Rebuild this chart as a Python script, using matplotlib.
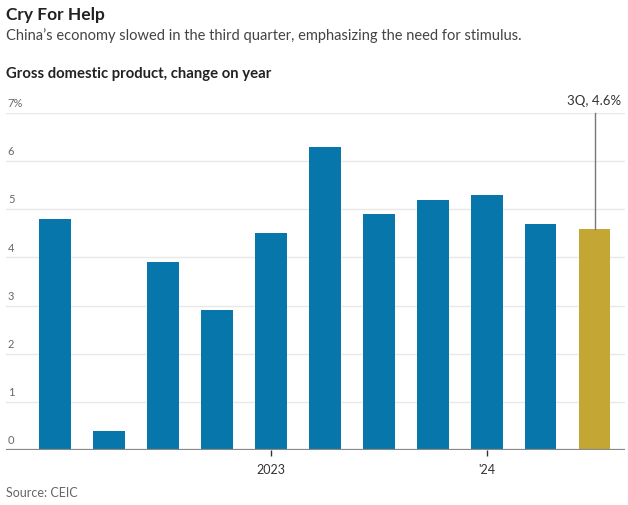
import matplotlib.pyplot as plt
import matplotlib.transforms as mtransforms

plt.rcParams['font.family'] = ['Lato', 'DejaVu Sans']

quarters = ['1Q22', '2Q22', '3Q22', '4Q22', '1Q23', '2Q23', '3Q23', '4Q23', '1Q24', '2Q24', '3Q24']
gdp_growth = [4.8, 0.4, 3.9, 2.9, 4.5, 6.3, 4.9, 5.2, 5.3, 4.7, 4.6]
y_ticks = [0, 1, 2, 3, 4, 5, 6, 7]
x_tick_labels = {'1Q23': '2023', '1Q24': "'24"}

blue = '#0777ab'
gold = '#c4a634'

fig = plt.figure(figsize=(6.28, 5.05), dpi=100)
W, H = 628, 505
ax = fig.add_axes([6 / W, 1 - 450 / H, 619 / W, (450 - 113) / H])

x = list(range(len(quarters)))
colors = [blue] * (len(quarters) - 1) + [gold]
ax.bar(x, gdp_growth, width=0.59, color=colors, zorder=2)

ax.set_xlim(-0.908, 10.565)
ax.set_ylim(0, 7)

# gridlines + labels sitting above them
trans = mtransforms.blended_transform_factory(ax.transAxes, ax.transData)
for t in y_ticks:
    if t == 0:
        continue
    ax.axhline(t, color='#e8e8e8', lw=1, zorder=1)
for t in y_ticks:
    lab = f'{t}%' if t == 7 else str(t)
    ax.text(0.003, t + 0.08, lab, transform=trans, ha='left', va='bottom',
            fontsize=8, color='#666666')
ax.axhline(0, color='#888888', lw=1.6, zorder=3)

for s in ax.spines.values():
    s.set_visible(False)
ax.set_yticks([])
tick_pos = [quarters.index(q) for q in x_tick_labels]
ax.set_xticks(tick_pos)
ax.set_xticklabels(list(x_tick_labels.values()), fontsize=9, color='#333333')
ax.tick_params(axis='x', length=4, width=1, color='#333333', pad=6)

# annotation for latest quarter
last = len(quarters) - 1
ax.plot([last, last], [gdp_growth[last], 7.0], color='#777777', lw=1, zorder=3, clip_on=False)
ax.text(last, 7.12, f'3Q, {gdp_growth[last]}%', ha='center', va='bottom',
        fontsize=9.5, color='#333333')

fig.text(6 / W, 1 - 20 / H, 'Cry For Help', fontsize=12.5, fontweight='bold', color='#222222')
fig.text(6 / W, 1 - 40 / H, 'China\u2019s economy slowed in the third quarter, emphasizing the need for stimulus.',
         fontsize=10.5, color='#444444')
fig.text(6 / W, 1 - 78 / H, 'Gross domestic product, change on year', fontsize=10.7,
         fontweight='bold', color='#222222')
fig.text(6 / W, 1 - 497 / H, 'Source: CEIC', fontsize=9, color='#666666')

fig.savefig('out.png', dpi=100)
